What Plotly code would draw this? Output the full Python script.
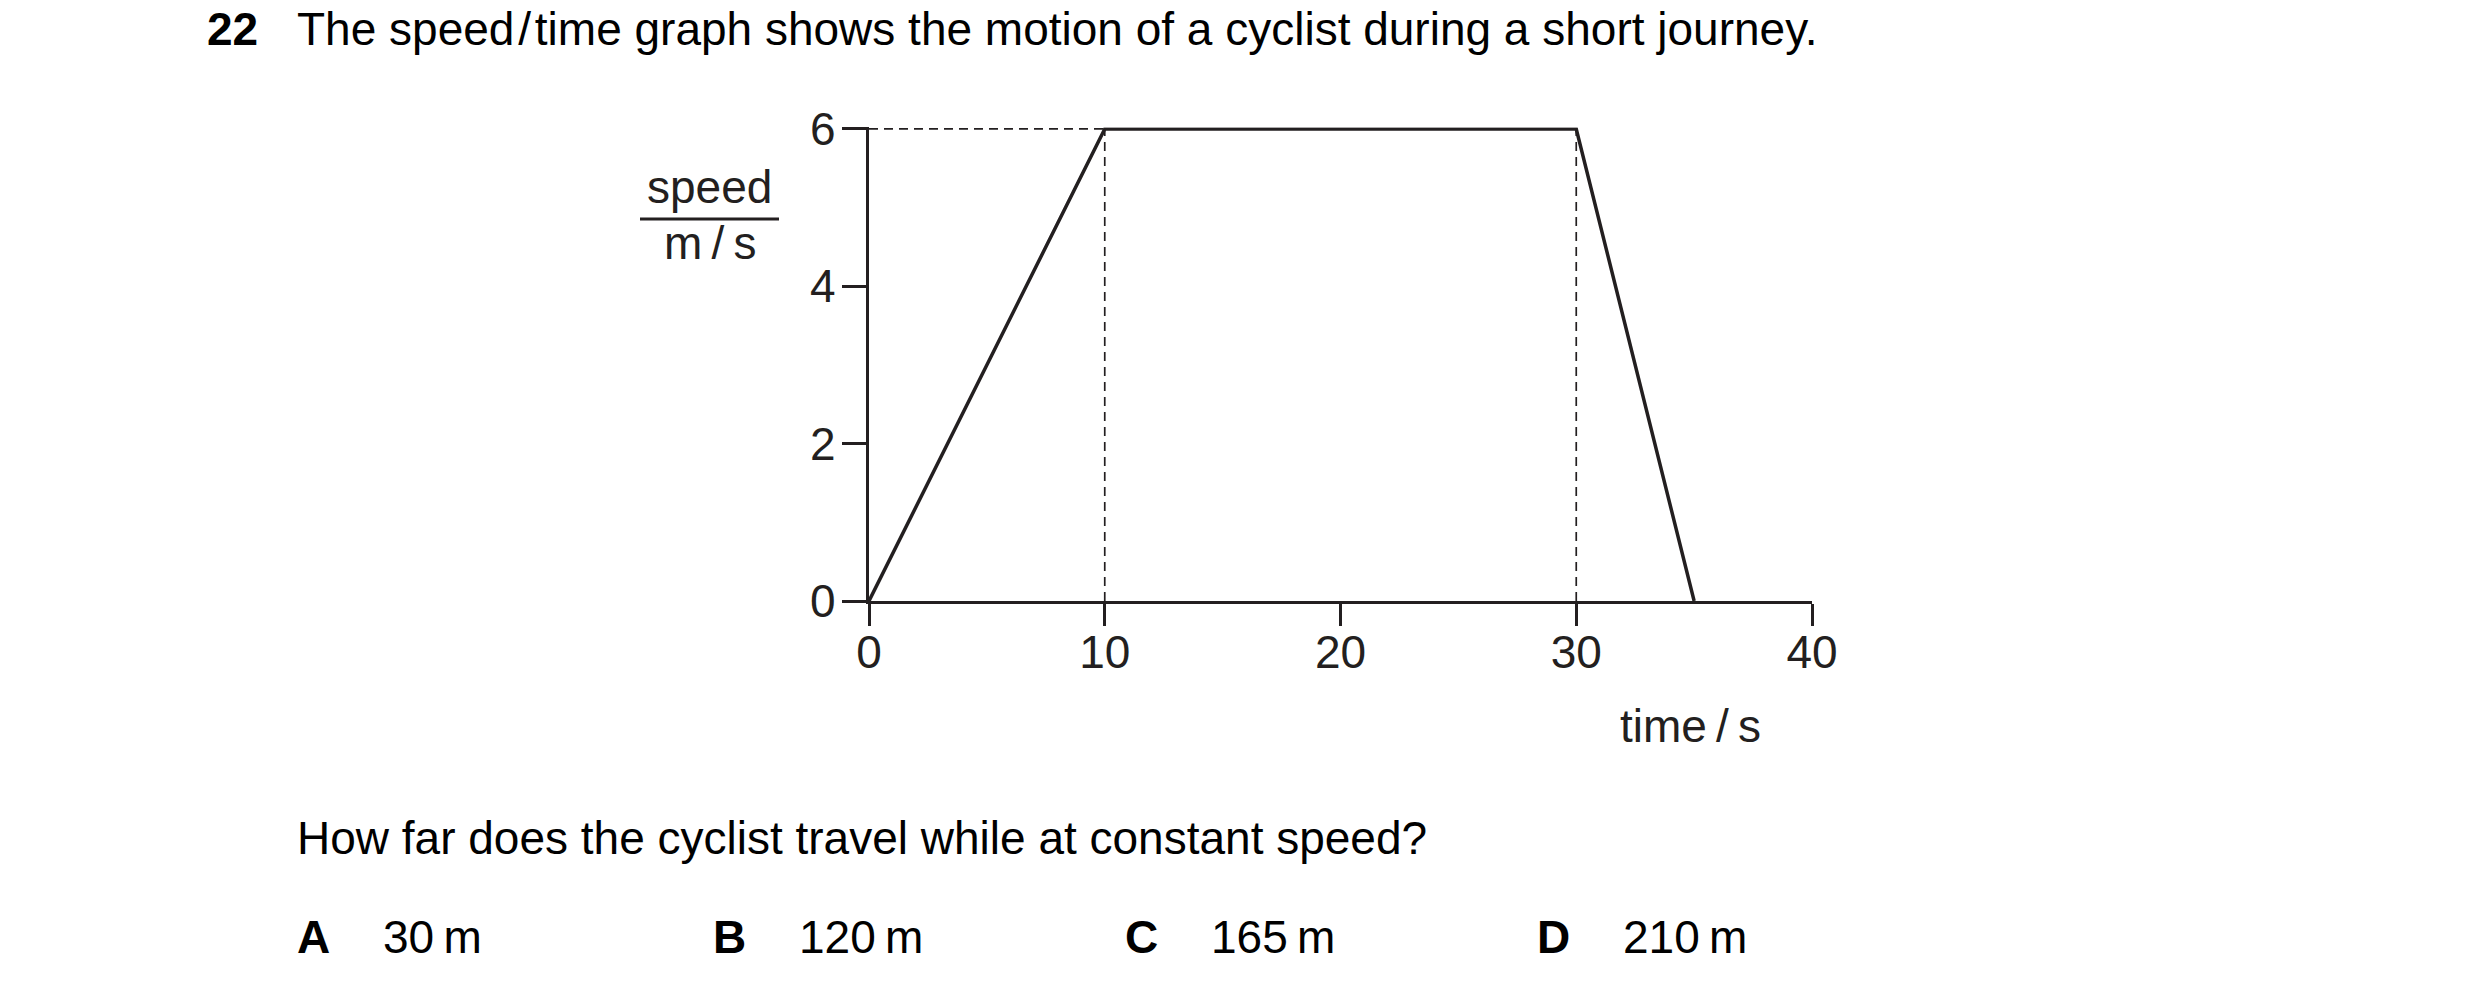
import plotly.graph_objects as go

# ---- data ----
time_s = [0, 10, 30, 35]
speed_ms = [0, 6, 6, 0]
guide_h_x = [0, 10]
guide_h_y = [6, 6]
guide_v1_x = [10, 10]
guide_v2_x = [30, 30]
guide_v_y = [0, 6]
x_ticks = [0, 10, 20, 30, 40]
y_ticks = [0, 2, 4, 6]
option_letters = ["A", "B", "C", "D"]
option_values = ["30\u2009m", "120\u2009m", "165\u2009m", "210\u2009m"]

W, H = 2480, 992
OFF = 8  # page body margin
INK = "#231f20"
FONT = "Liberation Sans, Arial, sans-serif"
FS = 46

def px(x):
    return (x - OFF) / W

def py(y):
    return 1 - (y - OFF) / H

fig = go.Figure()
dash = "9px,6px"
for xs, ys in [(guide_h_x, guide_h_y), (guide_v1_x, guide_v_y), (guide_v2_x, guide_v_y)]:
    fig.add_trace(go.Scatter(x=xs, y=ys, mode="lines",
                             line=dict(color=INK, width=1.7, dash=dash),
                             hoverinfo="skip", showlegend=False))
fig.add_trace(go.Scatter(x=time_s, y=speed_ms, mode="lines",
                         line=dict(color=INK, width=3.5),
                         showlegend=False))

axis_common = dict(showgrid=False, zeroline=False, showline=True, linecolor=INK,
                   linewidth=3.3, ticks="outside", tickwidth=3.3, tickcolor=INK,
                   automargin=False,
                   tickfont=dict(family=FONT, size=FS, color=INK), fixedrange=True)

fig.update_layout(
    template="none",
    width=W, height=H,
    margin=dict(l=0, r=0, t=0, b=0, pad=0),
    paper_bgcolor="white", plot_bgcolor="white",
    xaxis=dict(range=[0, 40], tickvals=x_ticks, ticklen=22,
               domain=[px(869), px(1812)], ticklabelstandoff=-13, **axis_common),
    yaxis=dict(range=[0, 6.02], tickvals=y_ticks, ticklen=24,
               domain=[py(601), py(127.4)], ticklabelstandoff=-3, **axis_common),
)

ann = []
def text(x, y, s, anchor="left", color="#000"):
    ann.append(dict(x=px(x), y=py(y), xref="paper", yref="paper", text=s,
                    showarrow=False, xanchor=anchor, yanchor="middle",
                    borderpad=0, borderwidth=0,
                    font=dict(family=FONT, size=FS, color=color)))

text(207, 29, "<b>22</b>")
text(297, 29, "The speed\u200a/\u200atime graph shows the motion of a cyclist during a short journey.")
text(709, 187, "speed", anchor="center", color=INK)
text(710, 243, "m\u2009/\u2009s", anchor="center", color=INK)
text(1690, 726, "time\u2009/\u2009s", anchor="center", color=INK)
text(297, 838, "How far does the cyclist travel while at constant speed?")
letter_x = [297, 713, 1125, 1537]
for lx, letter, val in zip(letter_x, option_letters, option_values):
    text(lx, 937, "<b>" + letter + "</b>")
    text(lx + 86, 937, val)

fig.update_layout(annotations=ann)
fig.add_shape(type="line", xref="paper", yref="paper",
              x0=px(640), x1=px(779), y0=py(219), y1=py(219),
              line=dict(color=INK, width=3))

fig.write_html("out.html")
